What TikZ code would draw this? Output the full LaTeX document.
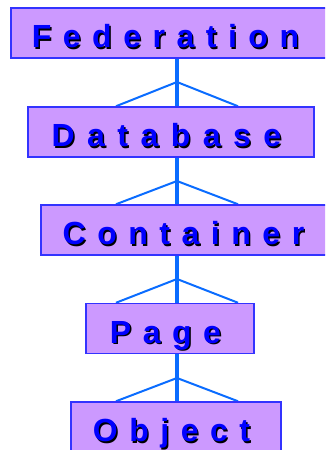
\documentclass[tikz,border=0pt]{standalone}
\usepackage{fontspec}
\usetikzlibrary{calc,backgrounds}
\newfontfamily\boxfont{Liberation Sans}[LetterSpace=36]

\definecolor{boxfill}{HTML}{CC99FF}
\definecolor{boxline}{HTML}{3333FF}
\definecolor{linkblue}{HTML}{0A6CFF}
\definecolor{labelblue}{HTML}{0000FF}

% label with a dark drop shadow behind blue letters
\newcommand\shadowed[1]{\rlap{\kern1.4pt\raisebox{-1.4pt}{\color{black}#1}}{\color{labelblue}#1}\kern9pt}

\tikzset{
  levelbox/.style={rectangle, draw=boxline, line width=1.5pt, fill=boxfill,
    minimum height=50pt, inner sep=0pt, text height=29.5pt, text depth=0pt,
    font=\boxfont\bfseries\fontsize{32}{32}\selectfont},
  trunk/.style={draw=linkblue, line width=3.5pt},
  branch/.style={draw=linkblue, line width=2pt},
}

\begin{document}
\begin{tikzpicture}[x=1pt,y=-1pt]
\useasboundingbox (0,0) rectangle (325,450);
\clip (0,0) rectangle (325,450);

\node[levelbox, minimum width=318pt] (fed)  at (170,33)    {\shadowed{Federation}};
\node[levelbox, minimum width=286pt] (db)   at (171,132)   {\addfontfeature{LetterSpace=39}\shadowed{Database}};
\node[levelbox, minimum width=294pt] (cont) at (188,230)   {\shadowed{Container}};
\node[levelbox, minimum width=168pt] (page) at (170,328.5) {\shadowed{Page}};
\node[levelbox, minimum width=210pt] (obj)  at (176,427)   {\shadowed{Object}};

\coordinate (j1) at (177,82);
\coordinate (j2) at (177,181);
\coordinate (j3) at (177,279);
\coordinate (j4) at (177,378);

\begin{pgfonlayer}{background}
  \foreach \up/\down/\j in {fed/db/j1, db/cont/j2, cont/page/j3, page/obj/j4}{
    \draw[trunk] (\up.south -| \j) -- (\down.north -| \j);
    \draw[branch] ($(\down.north -| \j)+(-61,0)$) -- (\j) -- ($(\down.north -| \j)+(61,0)$);
  }
\end{pgfonlayer}
\end{tikzpicture}
\end{document}
